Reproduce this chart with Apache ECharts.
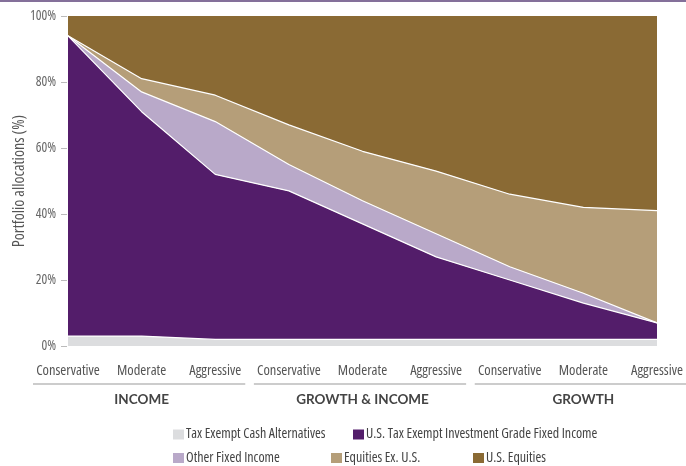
<!DOCTYPE html>
<html><head><meta charset="utf-8">
<script src="https://cdn.jsdelivr.net/npm/echarts@6/dist/echarts.min.js"></script>
<style>html,body{margin:0;padding:0;background:#fff}#c{width:686px;height:466px}</style>
</head><body><div id="c"></div>
<script>
var categories = ['Conservative','Moderate','Aggressive','Conservative','Moderate','Aggressive','Conservative','Moderate','Aggressive'];
var groups = ['INCOME','GROWTH & INCOME','GROWTH'];
var cashAlt = [3, 3, 2, 2, 2, 2, 2, 2, 2];
var muniFixed = [91, 68, 50, 45, 35, 25, 18, 11, 5];
var otherFixed = [0, 6, 16, 8, 7, 7, 4, 3, 0];
var equitiesExUS = [0, 4, 8, 12, 15, 19, 22, 26, 34];
var usEquities = [6, 19, 24, 33, 41, 47, 54, 58, 59];
var yTicks = [0, 20, 40, 60, 80, 100];

var FONT = 'Open Sans';
var names = ['Tax Exempt Cash Alternatives','U.S. Tax Exempt Investment Grade Fixed Income','Other Fixed Income','Equities Ex. U.S.','U.S. Equities'];
var colors = ['#dcdddf','#531d6a','#b9a9c9','#b59e79','#8a6a34'];
var dataSets = [cashAlt, muniFixed, otherFixed, equitiesExUS, usEquities];

var chart = echarts.init(document.getElementById('c'));
var series = names.map(function(n,i){
  return {
    name:n, type:'line', stack:'all', data:dataSets[i], symbol:'none', smooth:false,
    lineStyle:{color:'#fff', width: i===4 ? 0 : 1.2},
    areaStyle:{color:colors[i], opacity:1},
    itemStyle:{color:colors[i]}
  };
});
var legendPos = [[173,427.5],[353,427.5],[173,451],[331,451],[473,451]];
var legends = names.map(function(n,i){
  return {data:[n], left:legendPos[i][0], top:legendPos[i][1], padding:0, icon:'rect', itemWidth:11, itemHeight:10, itemGap:0,
    textStyle:{fontFamily:FONT, fontStyle:'condensed', fontSize:14, color:'#444', padding:[0,0,0,-3]}, selectedMode:false};
});
chart.setOption({
  animation:false,
  color:colors,
  grid:{left:68, right:29, top:16, bottom:120, outerBoundsMode:'none', containLabel:false},
  legend: legends,
  xAxis:{type:'category', data:categories, boundaryGap:false,
    axisLine:{show:false}, axisTick:{show:false},
    axisLabel:{fontFamily:FONT, fontStyle:'condensed', fontSize:14.5, color:'#555', margin:17, interval:0}},
  yAxis:{type:'value', min:0, max:100, interval:20, offset:1,
    name:'Portfolio allocations (%)', nameLocation:'middle', nameGap:40, nameMoveOverlap:false,
    nameTextStyle:{fontFamily:FONT, fontStyle:'condensed', fontSize:16, color:'#555'},
    axisLine:{show:false}, axisTick:{show:true, length:6, lineStyle:{color:'#bbb'}},
    splitLine:{show:false},
    axisLabel:{fontFamily:FONT, fontStyle:'condensed', fontSize:13.5, color:'#666', margin:11, formatter:'{value}%'}},
  series: series
});
var gfx = [{type:'rect', shape:{x:0,y:0,width:686,height:2}, style:{fill:'#84709a'}}];
for (var g=0; g<groups.length; g++){
  var x1 = chart.convertToPixel({xAxisIndex:0}, g*3);
  var x2 = chart.convertToPixel({xAxisIndex:0}, g*3+2);
  var a = x1-35, b = Math.min(x2+30, 686);
  gfx.push({type:'line', shape:{x1:a,y1:384,x2:b,y2:384}, style:{stroke:'#bbb', lineWidth:1.5}});
  gfx.push({type:'text', x:(x1+x2)/2, y:400, style:{text:groups[g], fill:'#444', font:'bold 13.5px Lato', textAlign:'center', textVerticalAlign:'middle'}});
}
chart.setOption({graphic:gfx});
</script></body></html>
